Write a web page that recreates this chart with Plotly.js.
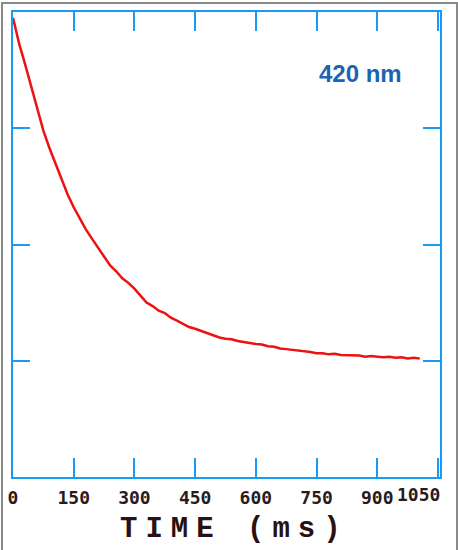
<!DOCTYPE html>
<html>
<head>
<meta charset="utf-8">
<script src="https://cdn.plot.ly/plotly-3.0.1.min.js"></script>
<style>
html,body{margin:0;padding:0;background:#fff;}
#wrap{position:relative;width:458px;height:550px;}
#chart{position:absolute;left:0;top:0;width:458px;height:550px;}
#frame{position:absolute;left:1px;top:2px;width:453px;height:560px;border:2px solid #8a8a8a;border-bottom:none;pointer-events:none;}
</style>
</head>
<body>
<div id="wrap"><div id="chart"></div><div id="frame"></div></div>
<script>
// Time (ms)
var timeMs = [0,15,30,45,60,75,90,105,120,135,150,165,180,195,210,225,240,255,270,285,
  300,315,330,345,360,375,390,405,420,435,450,465,480,495,510,525,540,555,570,585,
  600,615,630,645,660,675,690,705,720,735,750,765,780,795,810,825,840,855,870,885,
  900,915,930,945,960,975,990,1005];
// Signal (arbitrary units)
var signal = [3.95,3.73,3.55,3.36,3.17,2.98,2.83,2.70,2.56,2.43,
  2.32,2.22,2.13,2.05,1.97,1.90,1.82,1.77,1.71,1.67,
  1.62,1.56,1.50,1.47,1.43,1.41,1.37,1.345,1.315,1.29,
  1.275,1.255,1.235,1.22,1.20,1.19,1.185,1.17,1.16,1.15,
  1.145,1.14,1.125,1.12,1.105,1.10,1.095,1.085,1.08,1.075,
  1.065,1.065,1.055,1.06,1.05,1.05,1.045,1.045,1.035,1.04,
  1.035,1.03,1.035,1.025,1.03,1.02,1.025,1.02];
var xTickVals = [0,150,300,450,600,750,900,1050];
var xTickText = ['0','150','300','450','600','750','900',''];
var yTickVals = [1,2,3];
var lastTickLabel = '1050';
var wavelengthLabel = '420 nm';
var xTitle = 'TIME (ms)';

var blue = '#1a9af5';
var tickFont = {family:'DejaVu Sans Mono', size:18, color:'#2a1a1a', weight:'bold'};

var trace = {
  x: timeMs, y: signal, type:'scatter', mode:'lines',
  line:{color:'#ee1111', width:2.5}, hoverinfo:'skip'
};

var layout = {
  width:458, height:550,
  margin:{l:13, r:18, t:12, b:73},
  paper_bgcolor:'#ffffff', plot_bgcolor:'#ffffff',
  showlegend:false,
  xaxis:{
    range:[0,1055], tickvals:xTickVals, ticktext:xTickText,
    ticks:'inside', ticklen:19, tickwidth:2, tickcolor:blue,
    showline:true, linecolor:blue, linewidth:2, mirror:'ticks',
    showgrid:false, zeroline:false, tickfont:tickFont,
    ticklabelstandoff:3
  },
  yaxis:{
    range:[0,4], tickvals:yTickVals, showticklabels:false,
    ticks:'inside', ticklen:17, tickwidth:2, tickcolor:blue,
    showline:true, linecolor:blue, linewidth:2, mirror:'ticks',
    showgrid:false, zeroline:false
  },
  annotations:[
    {text:lastTickLabel, xref:'paper', yref:'paper', x:1.004, y:-0.0387,
     xanchor:'right', yanchor:'middle', showarrow:false, font:tickFont},
    {text:'<span style="letter-spacing:8px">'+xTitle+'</span>', xref:'paper', yref:'paper', x:(234-13)/427, y:-0.112,
     xanchor:'center', yanchor:'middle', showarrow:false,
     font:{family:'Liberation Mono', size:29, color:'#2a1010', weight:'bold'}},
    {text:wavelengthLabel, xref:'paper', yref:'paper', x:(360-13)/427, y:(477-74)/465,
     xanchor:'center', yanchor:'middle', showarrow:false,
     font:{family:'Liberation Sans', size:24, color:'#1b63b5', weight:'bold'}}
  ]
};

Plotly.newPlot('chart', [trace], layout, {displayModeBar:false, staticPlot:true});
</script>
</body>
</html>
